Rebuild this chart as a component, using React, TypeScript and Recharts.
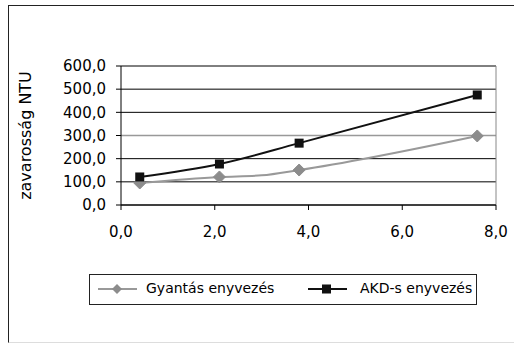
import { LineChart, Line, XAxis, YAxis, CartesianGrid, ReferenceLine } from 'recharts';

// Gyantás enyvezés (gray diamonds); the point at 3.0 has no marker in the original
const gyantasX = [0.4, 2.1, 3.0, 3.8, 7.6];
const gyantasY = [95, 121, 128, 151, 298];
const gyantasMarker = [true, true, false, true, true];

// AKD-s enyvezés (black squares)
const akdX = [0.4, 2.1, 3.8, 7.6];
const akdY = [121, 177, 267, 475];

const xTicks = [0, 2, 4, 6, 8];
const yTicks = [0, 100, 200, 300, 400, 500, 600];

const gyantasData = gyantasX.map((x, i) => ({ x, y: gyantasY[i], marker: gyantasMarker[i] }));
const akdData = akdX.map((x, i) => ({ x, y: akdY[i] }));

const FONT = '"DejaVu Sans", Verdana, sans-serif';
const GRAY = '#999999';
const BLACK = '#111111';

const fmt = (v: number) => v.toFixed(1).replace('.', ',');

const Diamond = (props: any) => {
  const { cx, cy, payload } = props;
  if (cx == null || cy == null || (payload && payload.marker === false)) return <g />;
  const r = 6;
  return (
    <polygon
      points={`${cx},${cy - r} ${cx + r},${cy} ${cx},${cy + r} ${cx - r},${cy}`}
      fill="#8c8c8c"
      stroke="#8c8c8c"
    />
  );
};

const Square = (props: any) => {
  const { cx, cy } = props;
  if (cx == null || cy == null) return <g />;
  const s = 9;
  return <rect x={cx - s / 2} y={cy - s / 2} width={s} height={s} fill={BLACK} />;
};

export default function App() {
  return (
    <div style={{ position: 'fixed', left: 0, top: 0, width: 514, height: 344, overflow: 'hidden', background: '#fff' }}>
      <div
        style={{
          position: 'absolute',
          left: 8,
          top: 5,
          width: 520,
          height: 336,
          borderLeft: '1px solid #222',
          borderTop: '1px solid #222',
          borderBottom: '1px solid #ddd',
        }}
      >
        <LineChart
          width={505}
          height={336}
          margin={{ top: 60, right: 18, bottom: 107, left: 0 }}
          style={{ fontFamily: FONT }}
        >
          <CartesianGrid vertical={false} stroke="#000" strokeWidth={1} />
          <ReferenceLine y={300} stroke={GRAY} strokeWidth={1.5} />
          <ReferenceLine x={8} stroke="#888" />
          <XAxis
            type="number"
            dataKey="x"
            domain={[0, 8]}
            ticks={xTicks}
            tickFormatter={fmt}
            stroke="#000"
            tickSize={5}
            tickMargin={16}
            height={30}
            tick={{ fill: '#000', fontSize: 15, fontFamily: FONT }}
            allowDuplicatedCategory={false}
          />
          <YAxis
            type="number"
            domain={[0, 600]}
            ticks={yTicks}
            tickFormatter={fmt}
            stroke="#000"
            tickSize={5}
            tickMargin={10}
            width={112}
            tick={{ fill: '#000', fontSize: 15, fontFamily: FONT }}
            label={{
              value: 'zavarosság NTU',
              angle: -90,
              position: 'insideLeft',
              offset: 16,
              style: { textAnchor: 'middle', fill: '#000', fontSize: 16, fontFamily: FONT },
            }}
          />
          <Line
            data={gyantasData}
            dataKey="y"
            type="monotone"
            stroke={GRAY}
            strokeWidth={2}
            dot={<Diamond />}
            activeDot={false}
            isAnimationActive={false}
          />
          <Line
            data={akdData}
            dataKey="y"
            type="monotone"
            stroke={BLACK}
            strokeWidth={2}
            dot={<Square />}
            activeDot={false}
            isAnimationActive={false}
          />
        </LineChart>
        <div
          style={{
            position: 'absolute',
            left: 80,
            top: 268,
            width: 386,
            height: 29,
            border: '1px solid #222',
            fontFamily: FONT,
            fontSize: 14,
            color: '#000',
          }}
        >
          <svg width={40} height={12} style={{ position: 'absolute', left: 8, top: 8 }}>
            <line x1={0} y1={6} x2={39} y2={6} stroke={GRAY} strokeWidth={2} />
            <polygon points="19,1 24,6 19,11 14,6" fill="#8c8c8c" />
          </svg>
          <span style={{ position: 'absolute', left: 56, top: 5 }}>Gyantás enyvezés</span>
          <svg width={40} height={12} style={{ position: 'absolute', left: 218, top: 8 }}>
            <line x1={0} y1={6} x2={39} y2={6} stroke={BLACK} strokeWidth={2} />
            <rect x={14} y={1.5} width={9} height={9} fill={BLACK} />
          </svg>
          <span style={{ position: 'absolute', left: 270, top: 5 }}>AKD-s enyvezés</span>
        </div>
      </div>
    </div>
  );
}
